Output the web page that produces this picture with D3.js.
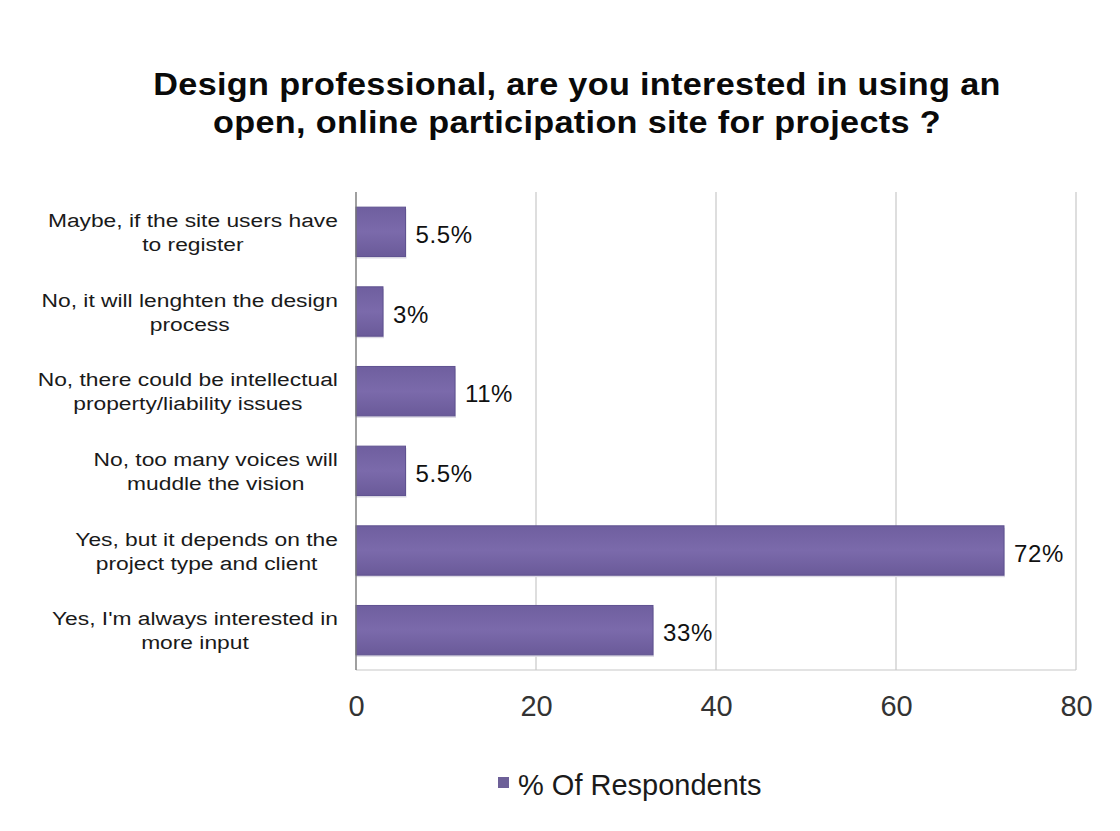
<!DOCTYPE html>
<html>
<head>
<meta charset="utf-8">
<script src="https://cdn.jsdelivr.net/npm/d3@7"></script>
<style>
  html, body { margin: 0; padding: 0; background: #fff; }
  svg { display: block; }
  text { font-family: "Liberation Sans", Arial, Helvetica, sans-serif; }
</style>
</head>
<body>
<svg id="chart" width="1120" height="831"></svg>
<script>
// Survey answers, top to bottom, each split over two lines
const categories = [
  ["Maybe, if the site users have", "to register"],
  ["No, it will lenghten the design", "process"],
  ["No, there could be intellectual", "property/liability issues"],
  ["No, too many voices will", "muddle the vision"],
  ["Yes, but it depends on the", "project type and client"],
  ["Yes, I'm always interested in", "more input"]
];
const values = [5.5, 3, 11, 5.5, 72, 33];
const valueLabels = ["5.5%", "3%", "11%", "5.5%", "72%", "33%"];
const xTicks = [0, 20, 40, 60, 80];
const titleLines = [
  "Design professional, are you interested in using an",
  "open, online participation site for projects ?"
];
const seriesName = "% Of Respondents";

const svg = d3.select("#chart");
const plot = { left: 356, right: 1076, top: 192, bottom: 670 };

const x = d3.scaleLinear().domain([0, 80]).range([plot.left, plot.right]);
const y = d3.scaleBand()
  .domain(d3.range(categories.length))
  .range([plot.top, plot.bottom])
  .paddingInner(0.38)
  .paddingOuter(0.19);

// Title: two centred bold lines, set slightly wide
const titleG = svg.append("g");
const titleBase = [95, 133];
titleLines.forEach((line, i) => {
  titleG.append("g")
    .attr("transform", `translate(577,${titleBase[i]}) scale(1.07,1)`)
    .append("text")
    .attr("text-anchor", "middle")
    .attr("font-size", 32)
    .attr("font-weight", "bold")
    .attr("letter-spacing", 0.3)
    .attr("fill", "#0a0a0a")
    .text(line);
});

// Gridlines and frame
const grid = svg.append("g");
grid.selectAll("line.v")
  .data(xTicks.filter(t => t > 0))
  .join("line")
  .attr("x1", d => x(d)).attr("x2", d => x(d))
  .attr("y1", plot.top).attr("y2", plot.bottom)
  .attr("stroke", "#c8c8c8").attr("stroke-width", 1.2);
grid.append("line")
  .attr("x1", plot.left).attr("x2", plot.right)
  .attr("y1", plot.bottom).attr("y2", plot.bottom)
  .attr("stroke", "#c8c8c8").attr("stroke-width", 1.2);

// Bars
const defs = svg.append("defs");
const grad = defs.append("linearGradient").attr("id", "barFill")
  .attr("x1", 0).attr("y1", 0).attr("x2", 0).attr("y2", 1);
grad.append("stop").attr("offset", "0%").attr("stop-color", "#6f5f9f");
grad.append("stop").attr("offset", "50%").attr("stop-color", "#7b6aab");
grad.append("stop").attr("offset", "100%").attr("stop-color", "#6a5a99");

const bars = svg.append("g");
bars.selectAll("rect.shadow")
  .data(values)
  .join("rect")
  .attr("class", "shadow")
  .attr("x", x(0))
  .attr("y", (d, i) => y(i) + 2)
  .attr("width", d => x(d) - x(0) + 1)
  .attr("height", y.bandwidth())
  .attr("fill", "#dcd9e4");
bars.selectAll("rect.bar")
  .data(values)
  .join("rect")
  .attr("class", "bar")
  .attr("x", x(0))
  .attr("y", (d, i) => y(i))
  .attr("width", d => x(d) - x(0))
  .attr("height", y.bandwidth())
  .attr("fill", "url(#barFill)")
  .attr("stroke", "#5f5290")
  .attr("stroke-width", 1);

// Value labels
svg.append("g").selectAll("text")
  .data(values)
  .join("text")
  .attr("x", d => x(d) + 10)
  .attr("y", (d, i) => y(i) + y.bandwidth() / 2 + 11)
  .attr("font-size", 24)
  .attr("letter-spacing", 0.6)
  .attr("fill", "#111")
  .text((d, i) => valueLabels[i]);

// Left axis line
svg.append("line")
  .attr("x1", plot.left).attr("x2", plot.left)
  .attr("y1", plot.top).attr("y2", plot.bottom)
  .attr("stroke", "#777").attr("stroke-width", 1.4);

// X axis tick labels
const xAxis = d3.axisBottom(x).tickValues(xTicks).tickSize(0).tickPadding(25);
const xg = svg.append("g")
  .attr("transform", `translate(0,${plot.bottom})`)
  .call(xAxis);
xg.select(".domain").remove();
xg.selectAll("text")
  .attr("font-size", 29)
  .attr("font-family", "'Liberation Sans', Arial, sans-serif")
  .attr("fill", "#333");

// Category labels: block right-aligned to the axis, lines centred within it
const labelRight = 338;
const stretch = 1.2;
const lg = svg.append("g");
categories.forEach((lines, i) => {
  const g = lg.append("g");
  const rows = g.selectAll("g")
    .data(lines)
    .join("g");
  const texts = rows.append("text")
    .attr("font-size", 19)
    .attr("fill", "#1a1a1a")
    .attr("text-anchor", "middle")
    .text(d => d);
  let maxW = 0;
  texts.each(function () { maxW = Math.max(maxW, this.getComputedTextLength()); });
  const cx = labelRight - maxW * stretch / 2;
  const cy = y(i) + y.bandwidth() / 2;
  rows.attr("transform", (d, j) => `translate(${cx},${cy - 5 + j * 24}) scale(${stretch},1)`);
});

// Legend
const legend = svg.append("g").attr("transform", "translate(498,777)");
legend.append("rect")
  .attr("width", 11).attr("height", 11)
  .attr("fill", "#6d6098");
legend.append("text")
  .attr("x", 20).attr("y", 18)
  .attr("font-size", 29)
  .attr("fill", "#1a1a1a")
  .text(seriesName);
</script>
</body>
</html>
